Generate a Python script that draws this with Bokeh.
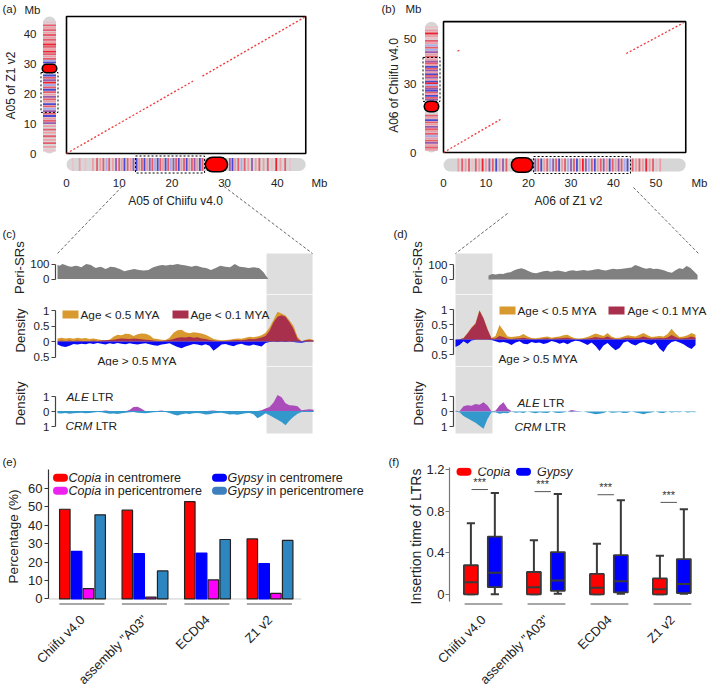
import numpy as np
from math import pi
from bokeh.plotting import figure
from bokeh.models import Range1d, LinearAxis, FixedTicker, Label, BoxAnnotation, Title
from bokeh.layouts import row, column
from bokeh.embed import file_html
from bokeh.resources import INLINE
from bokeh.core.properties import value

# ======================= DATA =======================
# ---- (a) A05: Chiifu v4.0 (x) vs Z1 v2 (y), Mb ----
a_len_x = 45.4
a_len_y = 46.0
a_blk_x0 = [0.0, 25.8]
a_blk_y0 = [0.0, 26.0]
a_blk_x1 = [24.0, 45.4]
a_blk_y1 = [24.3, 46.0]
a_cen_x = (26.2, 30.7)
a_cen_y = (26.9, 30.2)
a_zoom_x = (13.1, 26.2)
a_zoom_y = (13.8, 27.2)
a_ticks_x = [0, 10, 20, 30, 40]
a_ticks_y = [0, 10, 20, 30, 40]
a_h_pos = [1.2, 2.5, 3.6, 5.0, 5.8, 6.4, 7.0, 7.6, 8.1, 8.8, 9.4, 10.0, 10.5, 11.0, 11.6, 12.2, 12.7,
           13.3, 13.8, 14.3, 14.8, 15.3, 15.8, 16.3, 16.8, 17.3, 17.8, 18.3, 18.8, 19.3, 19.8, 20.3,
           20.8, 21.3, 21.8, 22.3, 22.8, 23.3, 23.8, 24.3, 24.8, 25.3, 25.8, 31.0, 31.5, 32.0, 32.6,
           33.2, 33.8, 34.5, 35.2, 35.9, 36.6, 37.4, 38.2, 39.0, 39.8, 40.6, 41.5, 42.4]
a_h_col = ("pk lr pk lr mr lr mr lb mr lr p mr lr b mr lr p b lr mr b lr p mr lb b mr lr b mr lb p "
           "mr b lr mr b lr mr p lr b mr p b lr mr lb mr lr p lr mr lr mr pk r lr mr pk").split()
a_v_pos = [1.0, 2.2, 3.5, 4.6, 5.8, 7.0, 8.0, 9.2, 10.2, 11.0, 11.8, 12.6, 13.4, 14.2, 15.0, 15.8,
           16.6, 17.4, 18.2, 19.0, 19.8, 20.6, 21.4, 22.2, 23.0, 23.8, 24.6, 25.4, 26.2, 30.6, 31.2,
           31.8, 32.6, 33.4, 34.2, 35.0, 35.8, 36.6, 37.4, 38.2, 39.0, 39.8, 40.6, 41.4, 42.2, 43.0, 44.0]
a_v_col = ("pk lr mr lr mr lr mr lr p mr lr b mr p lb mr b lr mr p lr mr b mr lb r p mr b b lb "
           "mr lr mr r lr mr r lr mr lr mr lr mr lr mr pk").split()

# ---- (b) A06: Z1 v2 (x) vs Chiifu v4.0 (y), Mb ----
b_len_x = 57.0
b_len_y = 57.4
b_blk_x0 = [0.0, 3.3, 43.0]
b_blk_y0 = [0.0, 44.5, 43.4]
b_blk_x1 = [13.4, 3.8, 56.5]
b_blk_y1 = [14.5, 44.9, 56.9]
b_cen_x = (15.8, 21.2)
b_cen_y = (17.5, 22.8)
b_zoom_x = (21.2, 44.0)
b_zoom_y = (22.4, 41.7)
b_ticks_x = [0, 10, 20, 30, 40, 50]
b_ticks_y = [0, 30, 50]
b_h_pos = [3.5, 4.4, 5.2, 6.0, 6.8, 7.6, 8.4, 9.2, 10.0, 10.8, 11.6, 12.4, 13.2, 14.0, 14.8, 21.6,
           22.3, 23.0, 23.7, 24.4, 25.1, 25.8, 26.5, 27.2, 27.9, 28.6, 29.3, 30.0, 30.7, 31.4, 32.1,
           32.8, 33.5, 34.2, 34.9, 35.6, 36.3, 37.0, 37.7, 38.4, 39.1, 39.8, 40.5, 41.2, 41.9, 42.6,
           43.3, 44.5, 45.3, 46.1, 46.9, 47.7, 48.5, 49.3, 50.1, 51.0]
b_h_col = ("lr mr lr mr pk mr lr r lr p mr b lr p mr p mr b lr mr lb p mr b lr mr lb p mr b lr r p "
           "lb mr b lr mr p lr b mr lr p mr lb b mr lr mr lr r lr mr pk lr").split()
b_v_pos = [1.2, 2.2, 3.2, 4.2, 5.2, 6.2, 7.2, 8.2, 9.2, 10.2, 11.2, 12.2, 13.2, 14.2, 15.2, 16.2,
           23.2, 24.0, 24.8, 25.6, 26.4, 27.2, 28.0, 28.8, 29.6, 30.4, 31.2, 32.0, 32.8, 33.6, 34.4,
           35.2, 36.0, 36.8, 37.6, 38.4, 39.2, 40.0, 40.8, 42.0, 43.0, 44.0, 45.0, 46.0, 47.0, 48.0,
           49.0, 50.0, 51.0, 52.2, 53.5, 55.0]
b_v_col = ("lr mr lr p mr lr lb mr lr mr p lr mr b lr mr p mr b lr mr b p mr lb r b lr p mr b lr p "
           "mr b lr mr p lr mr lr p lb mr lb lr mr pk lr r lr pk").split()

# ---- (c) zoom of A05 Chiifu: peri region + centromere (Mb) ----
c_cen = (27.75, 31.0)
c_peri_span = (13.0, 27.89)
c_peri = [93, 88, 100, 95, 89, 84, 82, 86, 89, 84, 78, 90, 100, 96, 93, 82, 73, 78, 82, 75,
          67, 74, 82, 80, 78, 72, 67, 58, 51, 56, 60, 64, 67, 63, 60, 58, 56, 59, 60, 70,
          78, 84, 89, 92, 93, 90, 91, 95, 93, 97, 100, 96, 93, 91, 89, 85, 82, 86, 89, 84,
          78, 75, 73, 66, 60, 66, 73, 82, 89, 85, 82, 80, 78, 90, 100, 90, 82, 80, 78, 75,
          73, 76, 78, 75, 73, 60, 44, 20, 0]
c_dens_span = (13.0, 31.07)
c_young05 = [0.10, 0.12, 0.10, 0.11, 0.09, 0.12, 0.10, 0.11, 0.08, 0.10, 0.07,
             0.05, 0.04, 0.06, 0.15, 0.22, 0.20, 0.25, 0.24, 0.18, 0.23, 0.26, 0.25, 0.20,
             0.10, 0.08, 0.06, 0.05, 0.12,
             0.28, 0.36, 0.38, 0.30, 0.27, 0.30, 0.28, 0.26, 0.22, 0.15,
             0.08, 0.06, 0.04, 0.05, 0.06, 0.08, 0.10, 0.09, 0.12, 0.15, 0.14, 0.16, 0.20,
             0.28, 0.45, 0.70, 0.96, 0.90, 0.84, 0.68, 0.50, 0.15, 0.01, 0.06, 0.09, 0.05]
c_young01 = [0.02, 0.03, 0.02, 0.03, 0.02, 0.03, 0.02, 0.02, 0.02, 0.03, 0.02,
             0.03, 0.04, 0.05, 0.06, 0.08, 0.10, 0.09, 0.08, 0.10, 0.09, 0.07, 0.06, 0.05,
             0.03, 0.02, 0.02, 0.03, 0.05,
             0.08, 0.12, 0.14, 0.13, 0.15, 0.12, 0.14, 0.10, 0.08, 0.05,
             0.03, 0.02, 0.02, 0.02, 0.03, 0.04, 0.05, 0.04, 0.06, 0.08, 0.07, 0.10, 0.13,
             0.18, 0.35, 0.62, 0.80, 0.85, 0.80, 0.62, 0.40, 0.08, 0.01, 0.04, 0.05, 0.03]
c_old = [-0.10, -0.15, -0.18, -0.14, -0.08, -0.10, -0.07, -0.09, -0.06, -0.08, -0.05,
         -0.07, -0.10, -0.06, -0.08, -0.05, -0.07, -0.09, -0.06, -0.08, -0.10, -0.07, -0.06, -0.09,
         -0.12, -0.14, -0.10, -0.08, -0.06,
         -0.12, -0.18, -0.22, -0.16, -0.12, -0.08, -0.10, -0.13, -0.09, -0.14,
         -0.30, -0.20, -0.10, -0.08, -0.12, -0.15, -0.10, -0.07, -0.12, -0.14, -0.10, -0.13, -0.16,
         -0.05, -0.02, -0.01, -0.02, -0.01, -0.02, -0.01, -0.02, -0.03, -0.04, -0.02, -0.01, -0.01]
c_ale = [0.02, 0.01, 0.02, 0.03, 0.02, 0.01, 0.02, 0.03, 0.02, 0.01, 0.02,
         0.04, 0.06, 0.03, 0.01, 0.02, 0.01, 0.02, 0.10, 0.30, 0.32, 0.18, 0.02, 0.01,
         0.02, 0.04, 0.06, 0.02, 0.01, 0.02, 0.01, 0.02, 0.03, 0.02, 0.01, 0.02, 0.03, 0.02, 0.05,
         0.06, 0.03, 0.01, 0.02, 0.01, 0.02, 0.01, 0.02, 0.03, 0.02, 0.01, 0.03, 0.08,
         0.20, 0.30, 0.60, 1.10, 0.95, 0.55, 0.42, 0.40, 0.35, 0.08, 0.12, 0.15, 0.12]
c_crm = [-0.12, -0.14, -0.10, -0.15, -0.12, -0.10, -0.08, -0.12, -0.10, -0.06, -0.04,
         -0.05, -0.10, -0.15, -0.13, -0.16, -0.12, -0.08, -0.05, -0.04, -0.08, -0.10, -0.12, -0.08,
         -0.05, -0.03, -0.02, -0.04, -0.10,
         -0.20, -0.26, -0.18, -0.14, -0.16, -0.12, -0.10, -0.14, -0.20, -0.18,
         -0.12, -0.10, -0.08, -0.14, -0.20, -0.18, -0.22, -0.16, -0.12, -0.10, -0.18, -0.45, -0.30,
         -0.12, -0.25, -0.40, -0.55, -0.70, -0.92, -0.60, -0.35, -0.15, -0.04, -0.03, -0.02, -0.02]

# ---- (d) zoom of A06 Z1 v2: centromere + peri region (Mb) ----
d_cen = (17.1, 21.16)
d_peri_span = (20.72, 43.64)
d_peri = [27, 36, 33, 38, 36, 45, 48, 62, 70, 75, 66, 55, 45, 42, 48, 55, 58, 52, 56, 60,
          55, 50, 58, 62, 56, 60, 64, 58, 62, 66, 70, 64, 60, 66, 72, 68, 70, 74, 76, 80,
          96, 88, 78, 72, 76, 70, 72, 66, 60, 50, 45, 62, 75, 70, 90, 78, 55, 30]
d_dens_span = (17.1, 43.42)
d_young05 = [0.0, 0.01, 0.05, 0.22, 0.40, 0.55, 0.98, 0.72, 0.35, 0.05,
             0.12, 0.48, 0.30, 0.10, 0.08, 0.10, 0.12, 0.18, 0.10, 0.05, 0.04, 0.06, 0.08, 0.10, 0.06,
             0.08, 0.10, 0.14, 0.16, 0.08, 0.04, 0.03, 0.05, 0.08, 0.14, 0.20, 0.16, 0.12, 0.22, 0.10,
             0.05, 0.06, 0.10, 0.14, 0.12, 0.10, 0.16, 0.22, 0.14, 0.08, 0.10, 0.12, 0.10, 0.18, 0.36,
             0.20, 0.08, 0.10, 0.14, 0.22, 0.16]
d_young01 = [0.0, 0.01, 0.04, 0.20, 0.38, 0.52, 0.96, 0.70, 0.33, 0.03,
             0.03, 0.12, 0.08, 0.03, 0.02, 0.03, 0.04, 0.06, 0.03, 0.02, 0.01, 0.02, 0.03, 0.04, 0.02,
             0.03, 0.04, 0.05, 0.06, 0.03, 0.01, 0.01, 0.02, 0.03, 0.05, 0.08, 0.06, 0.05, 0.10, 0.04,
             0.02, 0.02, 0.04, 0.06, 0.05, 0.04, 0.06, 0.10, 0.06, 0.03, 0.04, 0.05, 0.04, 0.07, 0.15,
             0.08, 0.03, 0.04, 0.06, 0.10, 0.06]
d_old = [-0.25, -0.18, -0.06, -0.14, -0.03, -0.01, -0.01, -0.01, -0.01, -0.02,
         -0.06, -0.10, -0.08, -0.12, -0.18, -0.10, -0.06, -0.14, -0.16, -0.08, -0.12, -0.10, -0.15,
         -0.12, -0.05, -0.08, -0.14, -0.10, -0.16, -0.08, -0.04, -0.06, -0.12, -0.18, -0.10, -0.22,
         -0.38, -0.20, -0.12, -0.25, -0.36, -0.28, -0.10, -0.06, -0.15, -0.20, -0.12, -0.08, -0.14,
         -0.18, -0.10, -0.30, -0.42, -0.20, -0.08, -0.05, -0.10, -0.16, -0.25, -0.32, -0.18]
d_ale = [0.05, 0.02, 0.35, 0.42, 0.38, 0.50, 0.45, 0.62, 0.40, 0.02,
         0.05, 0.40, 0.62, 0.20, 0.02, 0.0, 0.0, 0.0, 0.0, 0.0, 0.0, 0.0, 0.0, 0.0, 0.0,
         0.0, 0.0, 0.0, 0.0, 0.10, 0.05, 0.0, 0.0, 0.0, 0.0, 0.0, 0.0, 0.0, 0.0, 0.0,
         0.0, 0.0, 0.0, 0.0, 0.0, 0.0, 0.0, 0.0, 0.0, 0.0, 0.0, 0.0, 0.0, 0.0, 0.0,
         0.0, 0.0, 0.0, 0.0, 0.0, 0.0]
d_crm = [-0.02, -0.05, -0.30, -0.45, -0.60, -0.75, -0.95, -1.15, -0.50, -0.05,
         -0.05, -0.15, -0.10, -0.12, 0.0, -0.08, -0.05, -0.10, 0.0, -0.06, -0.12, -0.05, -0.08,
         -0.10, 0.0, -0.08, -0.10, -0.06, 0.0, -0.05, 0.0, -0.04, 0.0, -0.06, -0.12, -0.18,
         -0.15, -0.10, 0.0, -0.08, -0.06, -0.04, -0.10, -0.08, 0.0, -0.06, -0.12, -0.18, -0.10,
         -0.06, 0.0, -0.08, -0.10, 0.0, -0.06, -0.04, -0.05, 0.0, -0.06, -0.04, -0.05]

# ---- (e) share of LTR superfamilies (%) ----
e_groups = ["Chiifu v4.0", 'assembly "A03"', "ECD04", "Z1 v2"]
e_copia_cen = [48.6, 48.1, 52.7, 32.5]
e_gypsy_cen = [25.8, 24.6, 24.9, 19.2]
e_copia_peri = [5.6, 1.0, 10.3, 3.0]
e_gypsy_peri = [45.6, 15.2, 32.2, 31.7]
e_yticks = [0, 10, 20, 30, 40, 50, 60]

# ---- (f) insertion time of LTRs (MYA), box statistics ----
f_groups = e_groups
f_copia_low = [0.0, 0.0, 0.0, 0.0]
f_copia_q1 = [0.0, 0.0, 0.0, 0.0]
f_copia_med = [0.117, 0.069, 0.063, 0.048]
f_copia_q3 = [0.280, 0.215, 0.197, 0.153]
f_copia_up = [0.685, 0.520, 0.488, 0.371]
f_gypsy_low = [0.0, 0.005, 0.005, 0.005]
f_gypsy_q1 = [0.069, 0.033, 0.018, 0.012]
f_gypsy_med = [0.207, 0.132, 0.125, 0.100]
f_gypsy_q3 = [0.557, 0.407, 0.377, 0.340]
f_gypsy_up = [0.977, 0.967, 0.906, 0.820]
f_sig_y = [1.01, 0.99, 0.96, 0.886]
f_sig_txt = ["***", "***", "***", "***"]
f_yticks = [0, 0.4, 0.8, 1.2]
f_ylabels = ["0", "0.4", "0.8", "1.2"]

# ======================= STYLE / LAYOUT =======================
SX = 1.0
SY = 1.0
FONT = "Liberation Sans"
INK = "#222222"
STRIPE = {"pk": "#EBC0C9", "lr": "#EE9CA6", "mr": "#E65C6C", "r": "#F2202E",
          "lb": "#AAAAEA", "b": "#4A4AD4", "p": "#9A5AAE"}
C_PERI = "#808080"
C_SHADE = "#DEDEDE"
C_Y05 = "#D8992F"
C_Y01 = "#A8304C"
C_OLD = "#0A0AF5"
C_ALE = "#AA4DBB"
C_CRM = "#3399CC"
CWID = {" ": 0.278, "A": 0.667, "C": 0.722, "E": 0.667, "G": 0.778, "L": 0.556, "M": 0.833,
        "R": 0.722, "T": 0.611, "a": 0.556, "c": 0.5, "e": 0.556, "i": 0.222, "m": 0.833,
        "n": 0.556, "o": 0.556, "p": 0.556, "r": 0.333, "s": 0.5, "t": 0.278, "y": 0.5}
# page geometry (pixels)
LEFT_W, RIGHT_W = 364, 344
ROW1_H = 240          # dot plots (a)/(b)
PERI_Y, PERI_H = 240, 54
AGE_Y, AGE_H = 294, 72
FAM_Y, FAM_H, FAM_PAD = 366, 87, 13
ROW3_Y = FAM_Y + FAM_H
ROW3_H = 695 - ROW3_Y
ROW3_BOTTOM = 81
TRACK_TITLE = 13.2


def fs(px):
    return f"{px * SX:.1f}px"


def tw(s, size):
    return sum(CWID.get(ch, 0.55) for ch in s) * size


def make_panel(cx, cy, cw, ch, border, xmap, ymap):
    l, r, t, b = border

    def X(px):
        return xmap[1] + (px - xmap[0]) / xmap[2]

    def Y(py):
        return ymap[1] + (ymap[0] - py) / ymap[2]

    p = figure(width=round(cw * SX), height=round(ch * SY), title=None,
               x_range=Range1d(X(cx + l), X(cx + cw - r)),
               y_range=Range1d(Y(cy + ch - b), Y(cy + t)),
               x_axis_type=None, y_axis_type=None,
               output_backend="svg", toolbar_location=None,
               min_border_left=round(l * SX), min_border_right=round(r * SX),
               min_border_top=round(t * SY), min_border_bottom=round(b * SY))
    p.outline_line_color = None
    p.background_fill_color = "white"
    p.border_fill_color = "white"
    return p, X, Y


def txt(p, x, y, s, size, align="left", baseline="middle", style="normal", angle=0.0, color=INK):
    p.add_layout(Label(x=x, y=y, text=s, text_align=align, text_baseline=baseline,
                       text_font=FONT, text_font_size=fs(size), text_font_style=style,
                       text_color=color, angle=angle))


def mixed(p, X, Y, px, py, ital, rest, size):
    txt(p, X(px), Y(py), ital, size, style="italic")
    txt(p, X(px + tw(ital + " ", size)), Y(py), rest, size)


def yaxis(p, ticks, labels, bounds, size, color="#444444", title=None, title_size=13.5,
          title_standoff=2, label_standoff=2):
    ax = LinearAxis(ticker=FixedTicker(ticks=ticks), bounds=bounds,
                    major_label_overrides={t: lab for t, lab in zip(ticks, labels)})
    ax.axis_line_color = color
    ax.axis_line_width = 1.2
    ax.major_tick_line_color = color
    ax.major_tick_line_width = 1.2
    ax.major_tick_out = 4
    ax.major_tick_in = 0
    ax.minor_tick_line_color = None
    ax.major_label_text_font = FONT
    ax.major_label_text_font_size = fs(size)
    ax.major_label_text_color = INK
    ax.major_label_standoff = label_standoff
    if title:
        ax.axis_label = title
        ax.axis_label_text_font = FONT
        ax.axis_label_text_font_size = fs(title_size)
        ax.axis_label_text_font_style = "normal"
        ax.axis_label_text_color = INK
        ax.axis_label_standoff = title_standoff
    p.add_layout(ax, "left")


def xcat_axis(p, groups, size):
    ax = LinearAxis(ticker=FixedTicker(ticks=list(range(len(groups)))),
                    major_label_overrides={i: g for i, g in enumerate(groups)},
                    major_label_orientation=pi / 4)
    ax.axis_line_color = None
    ax.major_tick_line_color = None
    ax.minor_tick_line_color = None
    ax.major_label_text_font = FONT
    ax.major_label_text_font_size = fs(size)
    ax.major_label_text_color = INK
    ax.major_label_standoff = 6
    p.add_layout(ax, "below")


def panel_title(p, text, offset_ref):
    p.add_layout(Title(text=text, align="left", offset=round(offset_ref * SX), standoff=0,
                       vertical_align="bottom", text_font=FONT, text_font_size=fs(11.5),
                       text_font_style="normal", text_color=INK), "above")


def connector(p, X, Y, line, y_from, y_to):
    (x0, y0), (x1, y1) = line
    xa = x0 + (x1 - x0) * (y_from - y0) / (y1 - y0)
    xb = x0 + (x1 - x0) * (y_to - y0) / (y1 - y0)
    p.segment(x0=[X(xa)], y0=[Y(y_from)], x1=[X(xb)], y1=[Y(y_to)],
              line_color="#555555", line_width=0.9, line_dash="3 2")


def ideogram(p, horizontal, c, length, pos, cols, cen, zoom, pa, pc):
    th = 13.0
    cap = (th / 2) / pa
    if horizontal:
        p.segment(x0=[cap], y0=[c], x1=[length - cap], y1=[c], line_color="#D6D6D6",
                  line_width=th * SX, line_cap="round")
    else:
        p.segment(x0=[c], y0=[cap], x1=[c], y1=[length - cap], line_color="#D6D6D6",
                  line_width=th * SX, line_cap="round")
    sw = 1.8 / pa
    colors = [STRIPE[k] for k in cols]
    lo = [v - sw / 2 for v in pos]
    hi = [v + sw / 2 for v in pos]
    if horizontal:
        p.quad(left=lo, right=hi, bottom=c - th / 2 / pc, top=c + th / 2 / pc,
               fill_color=colors, line_color=None)
    else:
        p.quad(left=c - th / 2 / pc, right=c + th / 2 / pc, bottom=lo, top=hi,
               fill_color=colors, line_color=None)
    # centromere: red rounded block with a black rim
    clen = (cen[1] - cen[0]) * pa
    if horizontal:
        a0, a1 = cen[0] + 8 / pa, cen[1] - 8 / pa
        p.segment(x0=[a0], y0=[c], x1=[a1], y1=[c], line_color="black", line_width=16 * SX,
                  line_cap="round")
        p.segment(x0=[a0], y0=[c], x1=[a1], y1=[c], line_color="#FF0000", line_width=13 * SX,
                  line_cap="round")
    else:
        ym = (cen[0] + cen[1]) / 2
        eb = max(8.0 - clen / 2, 0.2) / pc
        er = max(6.5 - (clen - 3) / 2, 0.2) / pc
        p.segment(x0=[c - eb], y0=[ym], x1=[c + eb], y1=[ym], line_color="black",
                  line_width=clen * SX, line_cap="round")
        p.segment(x0=[c - er], y0=[ym], x1=[c + er], y1=[ym], line_color="#FF0000",
                  line_width=(clen - 3) * SX, line_cap="round")
    if horizontal:
        p.quad(left=[zoom[0]], right=[zoom[1]], bottom=[c - 8.5 / pc], top=[c + 8.5 / pc],
               fill_color=None, line_color="black", line_width=1, line_dash="2 2")
    else:
        p.quad(left=[c - 8.5 / pc], right=[c + 8.5 / pc], bottom=[zoom[0]], top=[zoom[1]],
               fill_color=None, line_color="black", line_width=1, line_dash="2 2")


def dotplot(p, lx, ly, bx0, by0, bx1, by1):
    p.quad(left=[0], right=[lx], bottom=[0], top=[ly], fill_color=None,
           line_color="black", line_width=1.6)
    p.segment(x0=bx0, y0=by0, x1=bx1, y1=by1, line_color="#EE3B3B", line_width=1.3,
              line_dash="2 2")


def ticklabels(p, xs, ys, labels, align):
    p.text(x=xs, y=ys, text=labels, text_align=align, text_baseline="middle",
           text_font=value(FONT), text_font_size=value(fs(11.5)), text_color=INK)


# ======================= (a) =======================
pa, Xa, Ya = make_panel(0, 0, LEFT_W, ROW1_H, (0, 0, 0, 0), (66, 0.0, 5.27), (153, 0.0, 2.978))
dotplot(pa, a_len_x, a_len_y, a_blk_x0, a_blk_y0, a_blk_x1, a_blk_y1)
ideogram(pa, True, Ya(164), a_len_x, a_h_pos, a_h_col, a_cen_x, a_zoom_x, 5.27, 2.978)
ideogram(pa, False, Xa(49), a_len_y, a_v_pos, a_v_col, a_cen_y, a_zoom_y, 2.978, 5.27)
ticklabels(pa, a_ticks_x, [Ya(182)] * len(a_ticks_x), [str(t) for t in a_ticks_x], "center")
ticklabels(pa, [Xa(36)] * len(a_ticks_y), a_ticks_y, [str(t) for t in a_ticks_y], "right")
txt(pa, Xa(311), Ya(182), "Mb", 11.5)
txt(pa, Xa(40), Ya(9), "Mb", 11.5, align="right")
txt(pa, Xa(2), Ya(8), "(a)", 11.5)
txt(pa, Xa(2), Ya(233), "(c)", 11.5)
txt(pa, Xa(175), Ya(200), "A05 of Chiifu v4.0", 12, align="center")
txt(pa, Xa(10), Ya(85), "A05 of Z1 v2", 12, align="center", angle=pi / 2)
CONN_A = [((135, 172), (57, 253)), ((205, 172), (312, 253))]
connector(pa, Xa, Ya, CONN_A[0], 186, ROW1_H)
connector(pa, Xa, Ya, CONN_A[1], 186, ROW1_H)

# ======================= (b) =======================
pb, Xb, Yb = make_panel(LEFT_W, 0, RIGHT_W, ROW1_H, (0, 0, 0, 0), (443, 0.0, 4.25), (152, 0.0, 2.28))
dotplot(pb, b_len_x, b_len_y, b_blk_x0, b_blk_y0, b_blk_x1, b_blk_y1)
ideogram(pb, True, Yb(164.5), b_len_x, b_h_pos, b_h_col, b_cen_x, b_zoom_x, 4.25, 2.28)
ideogram(pb, False, Xb(431), b_len_y, b_v_pos, b_v_col, b_cen_y, b_zoom_y, 2.28, 4.25)
ticklabels(pb, b_ticks_x, [Yb(182)] * len(b_ticks_x), [str(t) for t in b_ticks_x], "center")
ticklabels(pb, [Xb(416)] * len(b_ticks_y), b_ticks_y, [str(t) for t in b_ticks_y], "right")
txt(pb, Xb(691), Yb(182), "Mb", 11.5)
txt(pb, Xb(421), Yb(8), "Mb", 11.5, align="right")
txt(pb, Xb(381), Yb(8), "(b)", 11.5)
txt(pb, Xb(393), Yb(233), "(d)", 11.5)
txt(pb, Xb(568), Yb(200), "A06 of Z1 v2", 12, align="center")
txt(pb, Xb(393), Yb(85), "A06 of Chiifu v4.0", 12, align="center", angle=pi / 2)
CONN_B = [((507, 213), (455, 253)), ((633, 187), (698, 253))]
connector(pb, Xb, Yb, CONN_B[0], 213, ROW1_H)
connector(pb, Xb, Yb, CONN_B[1], 187, ROW1_H)


# ======================= (c) / (d) tracks =======================
def tracks(cx, cw, left_border, xmap, base, spans, data, shade, conns, leg, old_lab, fam_lab):
    peri_span, dens_span = spans
    peri, y05, y01, old, ale, crm = data
    # --- Peri-SRs ---
    p1, X1, Y1 = make_panel(cx, PERI_Y, cw, PERI_H, (left_border, 0, 0, 0), xmap,
                            (base[0], 0.0, 0.15))
    p1.add_layout(BoxAnnotation(left=shade[0], right=shade[1], top=Y1(253), fill_color=C_SHADE,
                                fill_alpha=1.0, line_color=None, level="underlay"))
    xs = np.linspace(peri_span[0], peri_span[1], len(peri))
    p1.varea(x=xs, y1=0, y2=peri, fill_color=C_PERI)
    yaxis(p1, [0, 100], ["0", "100"], (0, 100), 11.5, title="Peri-SRs",
          title_size=TRACK_TITLE, title_standoff=0)
    for ln in conns:
        connector(p1, X1, Y1, ln, PERI_Y, 253)
    # --- age density ---
    p2, X2, Y2 = make_panel(cx, AGE_Y, cw, AGE_H, (left_border, 0, 0, 0), xmap,
                            (base[1], 0.0, base[2]))
    p2.add_layout(BoxAnnotation(left=shade[0], right=shade[1], fill_color=C_SHADE,
                                fill_alpha=1.0, line_color=None, level="underlay"))
    xd = np.linspace(dens_span[0], dens_span[1], len(y05))
    p2.varea(x=xd, y1=0, y2=y05, fill_color=C_Y05)
    p2.varea(x=xd, y1=0, y2=y01, fill_color=C_Y01)
    p2.varea(x=xd, y1=0, y2=old, fill_color=C_OLD)
    yaxis(p2, [-0.5, 0, 0.5, 1], ["0.5", "0", "0.5", "1"], (-0.5, 1), 11.5,
          title="Density", title_size=TRACK_TITLE, title_standoff=3)
    (r1, t1, r2, t2, ly) = leg
    p2.rect(x=[X2(r1 + 8), X2(r2 + 8)], y=[Y2(ly), Y2(ly)], width=16 / xmap[2],
            height=8 / base[2], fill_color=[C_Y05, C_Y01], line_color=None)
    txt(p2, X2(t1), Y2(ly), "Age < 0.5 MYA", 11.8)
    txt(p2, X2(t2), Y2(ly), "Age < 0.1 MYA", 11.8)
    txt(p2, X2(old_lab[0]), Y2(old_lab[1]), "Age > 0.5 MYA", 11.8)
    # --- family density ---
    p3, X3, Y3 = make_panel(cx, FAM_Y, cw, FAM_H, (left_border, 0, 0, FAM_PAD), xmap,
                            (411, 0.0, 15.0))
    p3.add_layout(BoxAnnotation(left=shade[0], right=shade[1], bottom=Y3(433), fill_color=C_SHADE,
                                fill_alpha=1.0, line_color=None, level="underlay"))
    p3.varea(x=xd, y1=0, y2=ale, fill_color=C_ALE)
    p3.varea(x=xd, y1=0, y2=crm, fill_color=C_CRM)
    yaxis(p3, [-1, 0, 1], ["1", "0", "1"], (-1, 1), 11.5, title="Density",
          title_size=TRACK_TITLE, title_standoff=12)
    mixed(p3, X3, Y3, fam_lab[0], fam_lab[1], "ALE", "LTR", 11.8)
    mixed(p3, X3, Y3, fam_lab[2], fam_lab[3], "CRM", "LTR", 11.8)
    return p1, p2, p3


pc1, pc2, pc3 = tracks(0, LEFT_W, 55, (57, 13.0, 14.17), (278.5, 341, 31.0),
                       (c_peri_span, c_dens_span),
                       (c_peri, c_young05, c_young01, c_old, c_ale, c_crm),
                       c_cen, CONN_A, (62, 80, 172, 190, 314), (97, 360), (66, 396, 65, 425))
pc3.line(x=[c_dens_span[0], c_dens_span[1]], y=[0, 0], line_color=C_CRM, line_width=1)

pd1, pd2, pd3 = tracks(LEFT_W, RIGHT_W, 89, (455, 17.1, 9.12), (279, 339, 30.0),
                       (d_peri_span, d_dens_span),
                       (d_peri, d_young05, d_young01, d_old, d_ale, d_crm),
                       d_cen, CONN_B, (499, 517, 608, 627, 310), (498, 358), (517, 402, 514, 426))

# ======================= (e) =======================
pe, Xe, Ye = make_panel(0, ROW3_Y, LEFT_W, ROW3_H, (48, 0, 466 - ROW3_Y, ROW3_BOTTOM),
                        (82, 0.0, 62.5), (607, 0.0, 1.98))
gx = np.arange(len(e_groups))
e_series = [(e_copia_cen, "#FF0000", "#222222"), (e_gypsy_cen, "#0000FF", "#0000FF"),
            (e_copia_peri, "#FF00FF", "#222222"), (e_gypsy_peri, "#2E86C1", "#222222")]
e_offsets = [-0.283, -0.094, 0.094, 0.283]
pe.segment(x0=[Xe(48)], y0=[0], x1=[3.5], y1=[0], line_color="#CCCCCC", line_width=1)
for (vals, fc, lc), off in zip(e_series, e_offsets):
    pe.vbar(x=gx + off, top=vals, bottom=0, width=0.168, fill_color=fc, line_color=lc, line_width=1.2)
pe.segment(x0=gx - 0.37, y0=[Ye(612.5)] * 4, x1=gx + 0.35, y1=[Ye(612.5)] * 4,
           line_color="#A8A8A8", line_width=2)
yaxis(pe, e_yticks, [str(t) for t in e_yticks], (0, 70), 13, color="#333333",
      title="Percentage (%)", title_size=13.5, title_standoff=4)
xcat_axis(pe, e_groups, 13)
panel_title(pe, "(e)", -46)
e_leg = [(60, 477, "#FF0000", "Copia", "in centromere"),
         (219, 477, "#0000FF", "Gypsy", "in centromere"),
         (60, 491, "#EE22EE", "Copia", "in pericentromere"),
         (219, 491, "#3D7FBF", "Gypsy", "in pericentromere")]
for (mx, my, mc, it, rest) in e_leg:
    pe.segment(x0=[Xe(mx - 3.5)], y0=[Ye(my)], x1=[Xe(mx + 3.5)], y1=[Ye(my)],
               line_color=mc, line_width=8 * SX, line_cap="round")
    mixed(pe, Xe, Ye, mx + 8, my, it, rest, 12.5)

# ======================= (f) =======================
pf, Xf, Yf = make_panel(LEFT_W, ROW3_Y, RIGHT_W, ROW3_H, (85, 0, 466 - ROW3_Y, ROW3_BOTTOM),
                        (483, 0.0, 63.0), (602, 0.0, 111.25))
fx = np.arange(len(f_groups))
BW = 0.222
CAP = 0.065
for (low, q1, med, q3, up, col, off) in [
        (f_copia_low, f_copia_q1, f_copia_med, f_copia_q3, f_copia_up, "#FF0000", -0.20),
        (f_gypsy_low, f_gypsy_q1, f_gypsy_med, f_gypsy_q3, f_gypsy_up, "#0000FF", 0.18)]:
    cx_ = fx + off
    pf.segment(x0=cx_, y0=q3, x1=cx_, y1=up, line_color="#3A3A3A", line_width=2)
    pf.segment(x0=cx_, y0=q1, x1=cx_, y1=low, line_color="#3A3A3A", line_width=2)
    pf.segment(x0=cx_ - CAP, y0=up, x1=cx_ + CAP, y1=up, line_color="#3A3A3A", line_width=2)
    pf.segment(x0=cx_ - CAP, y0=low, x1=cx_ + CAP, y1=low, line_color="#3A3A3A", line_width=2)
    pf.quad(left=cx_ - BW / 2, right=cx_ + BW / 2, bottom=q1, top=q3, fill_color=col,
            line_color="#3A3A3A", line_width=1.8)
    pf.segment(x0=cx_ - BW / 2, y0=med, x1=cx_ + BW / 2, y1=med, line_color="#3A3A3A", line_width=2)
pf.segment(x0=fx - 0.19, y0=f_sig_y, x1=fx + 0.07, y1=f_sig_y, line_color="#555555", line_width=1)
pf.text(x=fx - 0.06, y=[v + 0.012 for v in f_sig_y], text=f_sig_txt, text_align="center",
        text_baseline="bottom", text_font=value(FONT), text_font_size=value(fs(11)),
        text_color="#333333")
pf.segment(x0=fx - 0.30, y0=[Yf(612.5)] * 4, x1=fx + 0.30, y1=[Yf(612.5)] * 4,
           line_color="#8A8A8A", line_width=1.5)
yaxis(pf, f_yticks, f_ylabels, (-0.07, 1.23), 13, color="#777777",
      title="Insertion time of LTRs", title_size=14, title_standoff=-1, label_standoff=1)
xcat_axis(pf, f_groups, 13)
panel_title(pf, "(f)", -61)
for (mx, mc, it) in [(463.5, "#FF0000", "Copia"), (523, "#0000FF", "Gypsy")]:
    pf.segment(x0=[Xf(mx - 3.5)], y0=[Yf(470.5)], x1=[Xf(mx + 3.5)], y1=[Yf(470.5)],
               line_color=mc, line_width=8 * SX, line_cap="round")
    txt(pf, Xf(mx + 13.5), Yf(470.5), it, 12.5, style="italic")

layout = column(row(pa, pb),
                row(column(pc1, pc2, pc3), column(pd1, pd2, pd3)),
                row(pe, pf))

with open("out.html", "w") as fh:
    fh.write(file_html(layout, INLINE))
